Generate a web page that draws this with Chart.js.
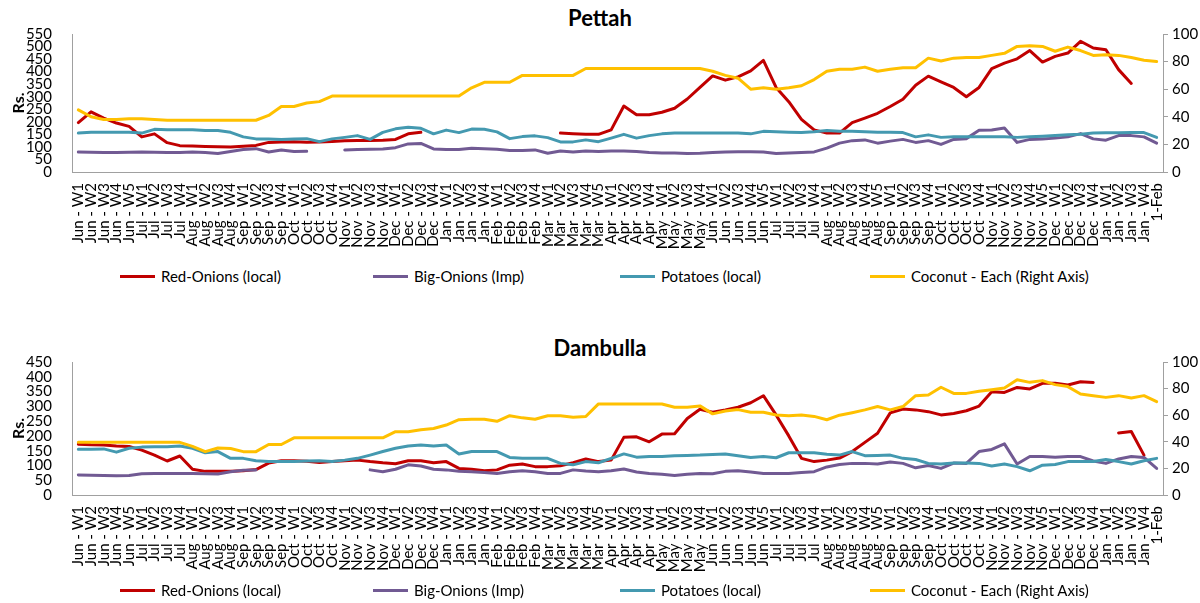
<!DOCTYPE html>
<html>
<head>
<meta charset="utf-8">
<script src="https://cdn.jsdelivr.net/npm/chart.js@4.4.0/dist/chart.umd.min.js"></script>
<style>
body { margin:0; background:#fff; width:1200px; height:603px; position:relative; overflow:hidden; font-family: Lato, sans-serif; }
.title { position:absolute; left:0; width:1200px; text-align:center; font-weight:bold; font-size:22px; line-height:26px; color:#000; }
.legend { position:absolute; left:0; width:1200px; height:18px; font-size:15px; line-height:18px; color:#000; }
.legend .item { position:absolute; top:0; display:flex; align-items:center; white-space:nowrap; }
.legend i { display:inline-block; width:35px; height:0; border-top:3px solid; margin-right:6px; }
canvas { position:absolute; left:0; }
</style>
</head>
<body>
<div class="title" style="top:5px">Pettah</div>
<canvas id="pettah" width="1200" height="262" style="top:0"></canvas>
<div class="legend" style="top:267px">
  <span class="item" style="left:120px"><i style="border-color:#C00000"></i>Red-Onions (local)</span>
  <span class="item" style="left:373px"><i style="border-color:#715A93"></i>Big-Onions (Imp)</span>
  <span class="item" style="left:620px"><i style="border-color:#4499B0"></i>Potatoes (local)</span>
  <span class="item" style="left:870px"><i style="border-color:#FFC000"></i>Coconut - Each (Right Axis)</span>
</div>

<div class="title" style="top:335px">Dambulla</div>
<canvas id="dambulla" width="1200" height="285" style="top:300px"></canvas>
<div class="legend" style="top:581px">
  <span class="item" style="left:120px"><i style="border-color:#C00000"></i>Red-Onions (local)</span>
  <span class="item" style="left:373px"><i style="border-color:#715A93"></i>Big-Onions (Imp)</span>
  <span class="item" style="left:620px"><i style="border-color:#4499B0"></i>Potatoes (local)</span>
  <span class="item" style="left:870px"><i style="border-color:#FFC000"></i>Coconut - Each (Right Axis)</span>
</div>

<script>
var weeks = ["Jun - W1","Jun - W2","Jun - W3","Jun - W4","Jun - W5",
"Jul - W1","Jul - W2","Jul - W3","Jul - W4",
"Aug - W1","Aug - W2","Aug - W3","Aug - W4",
"Sep - W1","Sep - W2","Sep - W3","Sep - W4",
"Oct - W1","Oct - W2","Oct - W3","Oct - W4",
"Nov - W1","Nov - W2","Nov - W3","Nov - W4",
"Dec - W1","Dec - W2","Dec - W3","Dec - W4",
"Jan - W1","Jan - W2","Jan - W3","Jan - W4",
"Feb - W1","Feb - W2","Feb - W3","Feb - W4",
"Mar - W1","Mar - W2","Mar - W3","Mar - W4","Mar - W5",
"Apr - W1","Apr - W2","Apr - W3","Apr - W4",
"May - W1","May - W2","May - W3","May - W4",
"Jun - W1","Jun - W2","Jun - W3","Jun - W4","Jun - W5",
"Jul - W1","Jul - W2","Jul - W3","Jul - W4",
"Aug - W1","Aug - W2","Aug - W3","Aug - W4","Aug - W5",
"Sep - W1","Sep - W2","Sep - W3","Sep - W4",
"Oct - W1","Oct - W2","Oct - W3","Oct - W4",
"Nov - W1","Nov - W2","Nov - W3","Nov - W4","Nov - W5",
"Dec - W1","Dec - W2","Dec - W3","Dec - W4",
"Jan - W1","Jan - W2","Jan - W3","Jan - W4",
"1-Feb"];

// Pettah (Rs.)
var pettahRedOnion = [197,240,215,195,182,140,152,117,105,104,
102,101,100,103,106,118,120,121,119,120,
122,125,126,126,127,130,152,158,null,null,
null,null,null,null,null,null,null,null,155,152,
150,150,168,263,228,228,238,254,291,337,
383,366,379,403,445,337,280,210,168,155,
155,197,215,234,261,290,346,382,359,337,
300,337,412,434,451,484,438,461,474,521,
494,487,408,353,null,null];
var pettahBigOnion = [80,79,78,78,79,80,79,78,78,80,
78,74,82,90,93,80,88,82,83,null,
null,88,90,91,92,97,112,114,92,90,
90,95,93,91,86,86,88,75,84,80,
84,82,84,84,82,78,76,76,74,75,
78,80,81,81,80,74,76,78,80,95,
115,125,128,115,123,130,118,125,110,130,
133,166,167,175,118,130,132,135,140,153,
132,127,145,145,140,115];
var pettahPotato = [155,158,158,158,158,155,170,168,168,168,
165,165,158,140,132,132,130,132,133,121,
132,138,145,130,158,172,178,174,152,167,
157,171,170,160,133,141,144,137,120,120,
128,121,135,150,135,145,152,155,155,155,
155,155,155,152,162,160,158,157,160,165,
162,162,160,158,158,157,140,148,138,140,
140,140,140,140,138,140,142,145,148,150,
155,156,156,157,157,138];
var pettahCoconut = [45,40,38,38,38.5,38.5,38,37.5,37.5,37.5,
37.5,37.5,37.5,37.5,37.5,41,47.5,47.5,50,51,
55,55,55,55,55,55,55,55,55,55,
55,61,65,65,65,70,70,70,70,70,
75,75,75,75,75,75,75,75,75,75,
73,70,68,60,61,60,61,62.5,67,73,
74.5,74.5,76,73,74.5,75.5,75.5,82.5,80.5,82.5,
83,83,84.5,86,91,91.5,91,87.5,90.5,88,
84.5,85,84.5,83,81,80];

// Dambulla (Rs.)
var dambullaRedOnion = [172,170,169,166,164,152,135,115,132,87,
80,80,80,82,86,108,116,116,114,110,
113,116,118,113,109,106,116,116,109,113,
90,87,82,85,101,105,96,96,99,109,
122,113,118,195,197,180,206,207,259,290,
280,288,297,312,336,271,200,124,113,118,
125,147,178,209,278,291,288,282,271,276,
285,301,349,347,364,359,378,378,372,383,
381,null,210,215,135,null];
var dambullaBigOnion = [68,67,66,65,66,72,73,73,73,73,
72,71,79,84,85,null,null,null,null,null,
null,null,null,85,79,87,102,98,87,85,
80,79,76,73,79,82,79,73,73,85,
81,79,82,88,78,73,70,66,70,73,
72,80,82,78,73,73,73,76,79,95,
103,107,107,105,112,107,92,100,90,108,
107,147,154,173,105,130,130,128,130,130,
115,107,122,130,127,90];
var dambullaPotato = [155,155,156,145,158,162,163,163,166,158,
143,147,124,124,116,113,113,113,115,116,
113,118,124,135,147,158,166,169,166,169,
139,147,147,147,127,124,124,124,107,102,
113,109,124,139,128,130,130,133,134,135,
137,139,133,127,130,126,143,143,143,138,
135,147,133,134,135,124,120,107,105,108,
108,107,98,105,96,82,101,103,113,113,
113,120,113,105,116,124];
var dambullaCoconut = [39.6,39.6,39.6,39.6,39.6,39.6,39.6,39.6,39.6,36.6,
32.6,35.3,35,32.6,32.6,38,38,43,43,43,
43,43,43,43,43,47.6,47.6,49,50,52.6,
56.6,57,57,55.4,59.6,58,57,59.6,59.6,58.4,
59,68.5,68.4,68.4,68.4,68.4,68.4,66,66,67,
61,63.2,64.2,62.2,62.2,60.2,59.6,60.2,59.1,56.6,
60,61.9,64,66.5,64,66.5,74.7,75.2,81,76.4,
76.4,78,79.2,80.5,86.7,84.7,86,83,81.5,75.9,
74.7,73.4,74.7,72.9,74.7,70.2];

Chart.defaults.font.family = "Lato, sans-serif";
Chart.defaults.color = "#000";

function serie(label, values, color, axis, order) {
  return {
    label: label, data: values, yAxisID: axis, order: order,
    borderColor: color, backgroundColor: color, borderWidth: 3,
    pointRadius: 0, tension: 0, borderJoinStyle: 'round', borderCapStyle: 'round'
  };
}

function priceChart(id, leftMax, red, big, potato, coconut, padTop) {
  new Chart(document.getElementById(id), {
    type: 'line',
    data: {
      labels: weeks,
      datasets: [
        serie("Red-Onions (local)", red, "#C00000", "y", 3),
        serie("Big-Onions (Imp)", big, "#715A93", "y", 2),
        serie("Potatoes (local)", potato, "#4499B0", "y", 1),
        serie("Coconut - Each (Right Axis)", coconut, "#FFC000", "y1", 0)
      ]
    },
    options: {
      responsive: false,
      animation: false,
      layout: { padding: { top: padTop, left: 0, right: 0, bottom: 0 } },
      plugins: { legend: { display: false }, title: { display: false }, tooltip: { enabled: false } },
      scales: {
        x: {
          offset: true,
          grid: { display: false },
          border: { display: true, color: "#A0A0A0" },
          ticks: { autoSkip: false, maxRotation: 90, minRotation: 90, padding: 3, font: { size: 15 } },
          afterFit: function (s) { s.height = 90; }
        },
        y: {
          position: 'left', min: 0, max: leftMax,
          grid: { display: false },
          border: { display: true, color: "#A0A0A0" },
          ticks: { stepSize: 50, autoSkip: false, padding: 12, font: { size: 15 } },
          title: { display: true, text: "Rs.", font: { size: 16, weight: 'bold' }, padding: { top: 9, bottom: 0 } },
          afterFit: function (s) { s.width = 72; }
        },
        y1: {
          position: 'right', min: 0, max: 100,
          grid: { display: true, drawOnChartArea: false, drawTicks: true, tickLength: 5, color: "#A0A0A0" },
          border: { display: true, color: "#A0A0A0" },
          ticks: { stepSize: 20, autoSkip: false, padding: 4, font: { size: 15 } },
          afterFit: function (s) { s.width = 37; }
        }
      }
    }
  });
}

priceChart("pettah", 550, pettahRedOnion, pettahBigOnion, pettahPotato, pettahCoconut, 34);
priceChart("dambulla", 450, dambullaRedOnion, dambullaBigOnion, dambullaPotato, dambullaCoconut, 62);
</script>
</body>
</html>
